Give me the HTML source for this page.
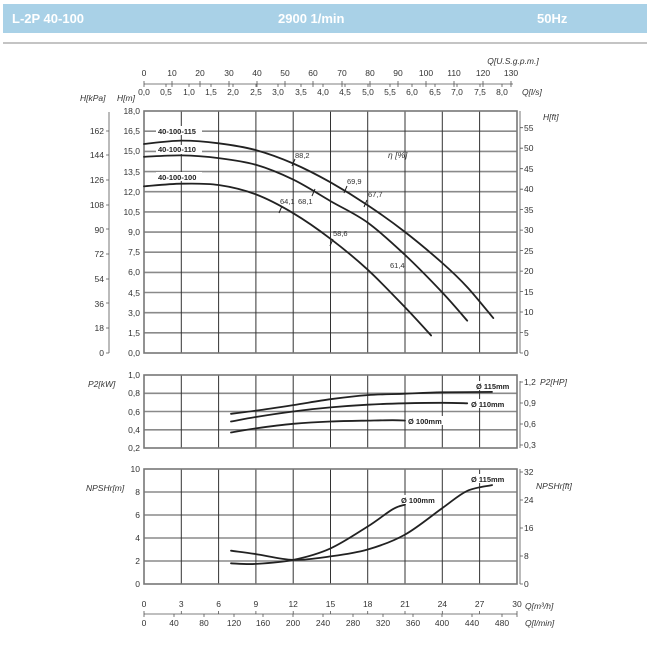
<!DOCTYPE html>
<html><head><meta charset="utf-8"><style>
body{margin:0;background:#fff;}
svg{display:block;font-family:"Liberation Sans",sans-serif;}
.t{font-size:8.5px;fill:#333;}
.i{font-size:8.5px;fill:#333;font-style:italic;}
.b{font-size:7.5px;fill:#222;font-weight:bold;}
.g{stroke:#8a8a8a;stroke-width:1.6;fill:none;}
.gv{stroke:#333;stroke-width:1;fill:none;}
.c{stroke:#222;stroke-width:1.8;fill:none;stroke-linejoin:round;stroke-linecap:round;}
.ax{stroke:#555;stroke-width:0.8;fill:none;}
</style></head><body>
<svg width="650" height="650" viewBox="0 0 650 650">
<rect x="3" y="4" width="644" height="29" fill="#a9d1e7"/>
<text x="12" y="23" fill="#fff" font-weight="bold" font-size="13">L-2P 40-100</text>
<text x="278" y="23" fill="#fff" font-weight="bold" font-size="13">2900 1/min</text>
<text x="537" y="23" fill="#fff" font-weight="bold" font-size="13">50Hz</text>
<line x1="3" y1="43" x2="647" y2="43" stroke="#888" stroke-width="1"/>

<!-- top axes -->
<text class="i" x="513" y="64" text-anchor="middle">Q[U.S.g.p.m.]</text>
<g class="t" text-anchor="middle">
<text x="144" y="76">0</text><text x="172" y="76">10</text><text x="200" y="76">20</text><text x="229" y="76">30</text><text x="257" y="76">40</text><text x="285" y="76">50</text><text x="313" y="76">60</text><text x="342" y="76">70</text><text x="370" y="76">80</text><text x="398" y="76">90</text><text x="426" y="76">100</text><text x="454" y="76">110</text><text x="483" y="76">120</text><text x="511" y="76">130</text>
<text x="144" y="95">0,0</text><text x="166" y="95">0,5</text><text x="189" y="95">1,0</text><text x="211" y="95">1,5</text><text x="233" y="95">2,0</text><text x="256" y="95">2,5</text><text x="278" y="95">3,0</text><text x="301" y="95">3,5</text><text x="323" y="95">4,0</text><text x="345" y="95">4,5</text><text x="368" y="95">5,0</text><text x="390" y="95">5,5</text><text x="412" y="95">6,0</text><text x="435" y="95">6,5</text><text x="457" y="95">7,0</text><text x="480" y="95">7,5</text><text x="502" y="95">8,0</text>
</g>
<text class="i" x="522" y="95">Q[l/s]</text>
<line class="ax" x1="144" y1="84" x2="513" y2="84"/>
<path class="ax" d="M144 81v6M172 81v6M200 81v6M229 81v6M257 81v6M285 81v6M313 81v6M342 81v6M370 81v6M398 81v6M426 81v6M454 81v6M483 81v6M511 81v6M166 84v3M189 84v3M211 84v3M233 84v3M256 84v3M278 84v3M301 84v3M323 84v3M345 84v3M368 84v3M390 84v3M412 84v3M435 84v3M457 84v3M480 84v3M502 84v3"/>
<text class="i" x="80" y="101">H[kPa]</text><text class="i" x="117" y="101">H[m]</text>

<!-- H chart grid -->
<g class="g">
<path d="M144 131.2H517M144 151.4H517M144 171.6H517M144 191.7H517M144 211.9H517M144 232.1H517M144 252.2H517M144 272.4H517M144 292.5H517M144 312.7H517M144 332.8H517"/>
</g>
<g class="gv"><path d="M181.3 111V353M218.6 111V353M255.9 111V353M293.2 111V353M330.5 111V353M367.7 111V353M405 111V353M442.3 111V353M479.6 111V353"/></g>
<rect x="144" y="111" width="373" height="242" fill="none" stroke="#777" stroke-width="1.6"/>
<g class="t" text-anchor="end">
<text x="140" y="114">18,0</text><text x="140" y="134">16,5</text><text x="140" y="154">15,0</text><text x="140" y="175">13,5</text><text x="140" y="195">12,0</text><text x="140" y="215">10,5</text><text x="140" y="235">9,0</text><text x="140" y="255">7,5</text><text x="140" y="275">6,0</text><text x="140" y="296">4,5</text><text x="140" y="316">3,0</text><text x="140" y="336">1,5</text><text x="140" y="356">0,0</text>
<text x="104" y="134">162</text><text x="104" y="158">144</text><text x="104" y="183">126</text><text x="104" y="208">108</text><text x="104" y="233">90</text><text x="104" y="257">72</text><text x="104" y="282">54</text><text x="104" y="307">36</text><text x="104" y="331">18</text><text x="104" y="356">0</text>
</g>
<line class="ax" x1="109" y1="112" x2="109" y2="353"/>
<path class="ax" d="M106 131h3M106 155h3M106 180h3M106 205h3M106 229h3M106 254h3M106 279h3M106 303h3M106 328h3M106 353h3"/>
<line class="ax" x1="520" y1="111" x2="520" y2="353"/>
<path class="ax" d="M520 127.7h3M520 148.2h3M520 168.7h3M520 189.2h3M520 209.6h3M520 230.1h3M520 250.6h3M520 271.1h3M520 291.5h3M520 312h3M520 332.5h3M520 353h3"/>
<g class="t">
<text x="524" y="131">55</text><text x="524" y="151">50</text><text x="524" y="172">45</text><text x="524" y="192">40</text><text x="524" y="213">35</text><text x="524" y="233">30</text><text x="524" y="254">25</text><text x="524" y="274">20</text><text x="524" y="295">15</text><text x="524" y="315">10</text><text x="524" y="336">5</text><text x="524" y="356">0</text>
</g>
<text class="i" x="543" y="120">H[ft]</text>

<polyline class="c sm" points="144,144 181.3,140.6 218.6,143.3 255.9,150.1 293.2,163.5 330.5,182.3 367.7,205.2 405,232 442.3,263 467.2,287.1 493.3,318.1"/>
<polyline class="c sm" points="144,156.8 181.3,155.4 218.6,158.1 255.9,164.8 293.2,179.6 330.5,201.1 367.7,222.6 405,254.9 442.3,292.5 467.2,320.7"/>
<polyline class="c sm" points="144,186.3 181.3,183.7 218.6,185 255.9,194.4 293.2,213.2 330.5,238.8 367.7,269.7 405,307.3 431.1,335.5"/>
<g>
<rect x="156" y="126" width="46" height="9" fill="#fff"/><text class="b" x="158" y="134">40-100-115</text>
<rect x="156" y="145" width="46" height="9" fill="#fff"/><text class="b" x="158" y="152">40-100-110</text>
<rect x="156" y="172" width="46" height="9" fill="#fff"/><text class="b" x="158" y="180">40-100-100</text>
</g>
<g font-size="7.5" fill="#333">
<text x="295" y="158">88,2</text><text x="347" y="184">69,9</text><text x="368" y="197">67,7</text><text x="280" y="204">64,1</text><text x="298" y="204">68,1</text><text x="333" y="236">58,6</text><text x="390" y="268">61,4</text>
</g>
<text class="i" x="388" y="158">η [%]</text>
<path stroke="#222" stroke-width="1" d="M292 166l3-7M344 193l3-7M364 207l3-7M279 213l3-7M312 196l3-7M330 246l3-7"/>

<!-- P2 chart -->
<g class="g"><path d="M144 393.3H517M144 411.5H517M144 429.8H517"/></g>
<g class="gv"><path d="M181.3 375V448M218.6 375V448M255.9 375V448M293.2 375V448M330.5 375V448M367.7 375V448M405 375V448M442.3 375V448M479.6 375V448"/></g>
<rect x="144" y="375" width="373" height="73" fill="none" stroke="#777" stroke-width="1.6"/>
<g class="t" text-anchor="end">
<text x="140" y="378">1,0</text><text x="140" y="396">0,8</text><text x="140" y="415">0,6</text><text x="140" y="433">0,4</text><text x="140" y="451">0,2</text>
</g>
<text class="i" x="88" y="387">P2[kW]</text>
<line class="ax" x1="520" y1="381" x2="520" y2="448"/>
<path class="ax" d="M520 382h3M520 403h3M520 424h3M520 445h3"/>
<g class="t"><text x="524" y="385">1,2</text><text x="524" y="406">0,9</text><text x="524" y="427">0,6</text><text x="524" y="448">0,3</text></g>
<text class="i" x="540" y="385">P2[HP]</text>
<polyline class="c sm" points="231,413.8 255.9,410.6 293.2,405.1 330.5,399.2 367.7,395.1 405,393.7 442.3,392.3 492,391.9"/>
<polyline class="c sm" points="231,421.5 255.9,417 293.2,411.5 330.5,407.4 367.7,404.7 405,403.3 442.3,402.8 467.2,403.3"/>
<polyline class="c sm" points="231,432.5 255.9,428.4 293.2,423.8 330.5,421.5 367.7,420.6 392.6,420.2 405,420.6"/>
<rect x="474" y="381" width="42" height="9" fill="#fff"/><text class="b" x="476" y="389">Ø 115mm</text>
<rect x="469" y="399" width="42" height="9" fill="#fff"/><text class="b" x="471" y="407">Ø 110mm</text>
<rect x="406" y="416" width="42" height="9" fill="#fff"/><text class="b" x="408" y="424">Ø 100mm</text>

<!-- NPSH chart -->
<g class="g"><path d="M144 492H517M144 515H517M144 538H517M144 561H517"/></g>
<g class="gv"><path d="M181.3 469V584M218.6 469V584M255.9 469V584M293.2 469V584M330.5 469V584M367.7 469V584M405 469V584M442.3 469V584M479.6 469V584"/></g>
<rect x="144" y="469" width="373" height="115" fill="none" stroke="#777" stroke-width="1.6"/>
<g class="t" text-anchor="end">
<text x="140" y="472">10</text><text x="140" y="495">8</text><text x="140" y="518">6</text><text x="140" y="541">4</text><text x="140" y="564">2</text><text x="140" y="587">0</text>
</g>
<text class="i" x="86" y="491">NPSHr[m]</text>
<line class="ax" x1="520" y1="469" x2="520" y2="584"/>
<path class="ax" d="M520 472h3M520 500h3M520 528h3M520 556h3M520 584h3"/>
<g class="t"><text x="524" y="475">32</text><text x="524" y="503">24</text><text x="524" y="531">16</text><text x="524" y="559">8</text><text x="524" y="587">0</text></g>
<text class="i" x="536" y="489">NPSHr[ft]</text>
<polyline class="c sm" points="231,563.3 255.9,563.9 293.2,559.9 330.5,548.4 367.7,526.5 392.6,509.3 405,504.7"/>
<polyline class="c sm" points="231,550.7 255.9,554.1 293.2,559.9 330.5,556.4 367.7,549.5 405,534.6 442.3,508.1 467.2,490.9 492,485.1"/>
<rect x="469" y="474" width="42" height="9" fill="#fff"/><text class="b" x="471" y="482">Ø 115mm</text>
<rect x="399" y="495" width="42" height="9" fill="#fff"/><text class="b" x="401" y="503">Ø 100mm</text>

<!-- bottom axes -->
<g class="t" text-anchor="middle">
<text x="144" y="607">0</text><text x="181.3" y="607">3</text><text x="218.6" y="607">6</text><text x="255.9" y="607">9</text><text x="293.2" y="607">12</text><text x="330.5" y="607">15</text><text x="367.7" y="607">18</text><text x="405" y="607">21</text><text x="442.3" y="607">24</text><text x="479.6" y="607">27</text><text x="517" y="607">30</text>
<text x="144" y="626">0</text><text x="174" y="626">40</text><text x="204" y="626">80</text><text x="234" y="626">120</text><text x="263" y="626">160</text><text x="293" y="626">200</text><text x="323" y="626">240</text><text x="353" y="626">280</text><text x="383" y="626">320</text><text x="413" y="626">360</text><text x="442" y="626">400</text><text x="472" y="626">440</text><text x="502" y="626">480</text>
</g>
<text class="i" x="525" y="609">Q[m³/h]</text>
<text class="i" x="525" y="626">Q[l/min]</text>
<line class="ax" x1="144" y1="614" x2="517" y2="614"/>
<path class="ax" d="M144 611v6M181.3 611v3M218.6 611v3M255.9 611v3M293.2 611v3M330.5 611v3M367.7 611v3M405 611v3M442.3 611v3M479.6 611v3M517 611v6M174 614v3M204 614v3M234 614v3M263 614v3M293 614v3M323 614v3M353 614v3M383 614v3M413 614v3M442 614v3M472 614v3M502 614v3"/>
</svg>
<script>
document.querySelectorAll('polyline.sm').forEach(function(pl){
  var p=pl.getAttribute('points').trim().split(/\s+/).map(function(s){return s.split(',').map(Number);});
  var d='M'+p[0][0]+' '+p[0][1];
  for(var i=0;i<p.length-1;i++){
    var p0=p[i-1]||p[i],p1=p[i],p2=p[i+1],p3=p[i+2]||p2;
    var c1x=p1[0]+(p2[0]-p0[0])/6,c1y=p1[1]+(p2[1]-p0[1])/6;
    var c2x=p2[0]-(p3[0]-p1[0])/6,c2y=p2[1]-(p3[1]-p1[1])/6;
    d+=' C'+c1x.toFixed(1)+' '+c1y.toFixed(1)+' '+c2x.toFixed(1)+' '+c2y.toFixed(1)+' '+p2[0]+' '+p2[1];
  }
  var path=document.createElementNS('http://www.w3.org/2000/svg','path');
  path.setAttribute('d',d);path.setAttribute('class','c');
  pl.parentNode.replaceChild(path,pl);
});
</script>
</body></html>
